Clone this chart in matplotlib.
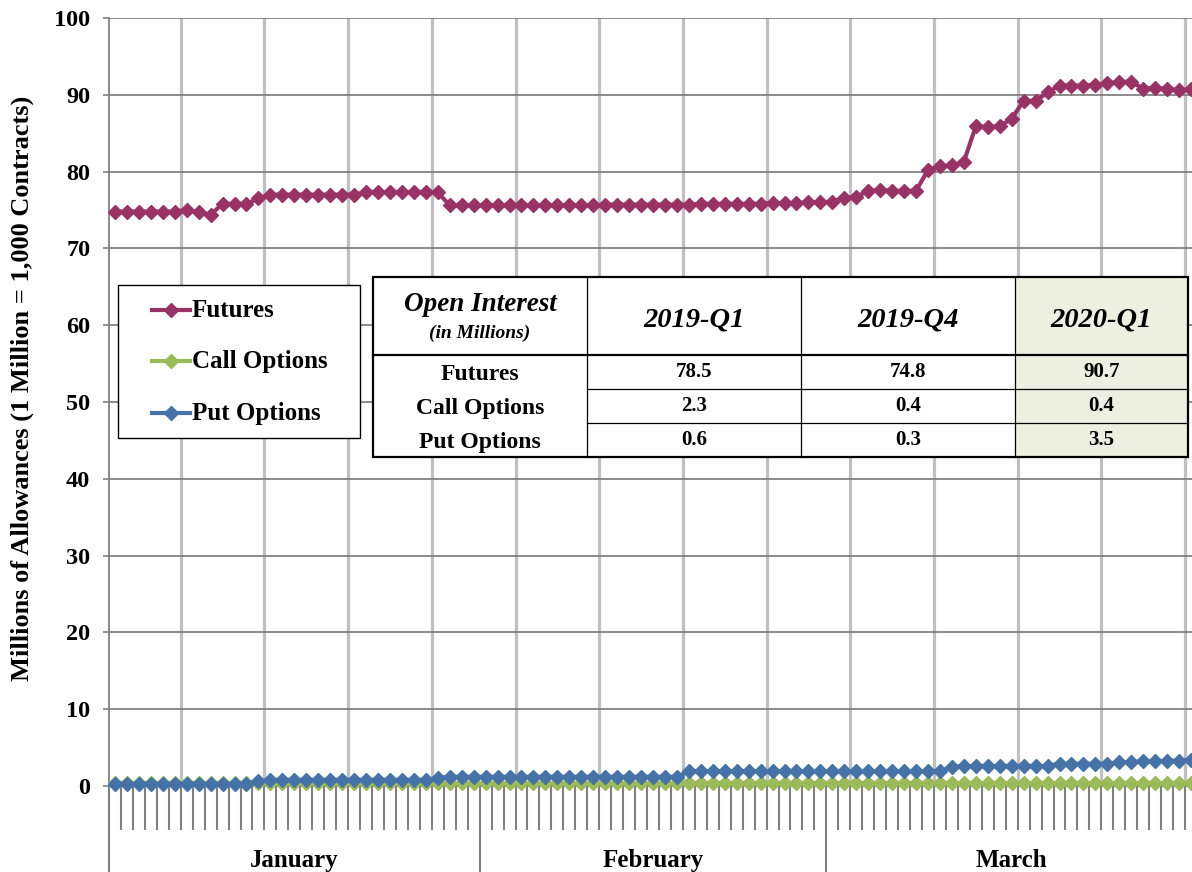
import numpy as np
import pandas as pd
import matplotlib
matplotlib.use('Agg')
import matplotlib.pyplot as plt
import matplotlib.transforms as mtransforms
from matplotlib.patches import Rectangle

plt.rcParams['font.family'] = ['Liberation Serif', 'DejaVu Serif']
plt.rcParams['font.weight'] = 'bold'

# daily categories, Q1 2020
dates = pd.date_range('2020-01-01', '2020-03-31', freq='D')
months = ['January', 'February', 'March']

# open interest, millions of allowances
futures = [74.8, 74.8, 74.8, 74.8, 74.8, 74.8, 75.0, 74.7, 74.4, 75.8, 75.8, 75.8,
           76.5, 77.0, 77.0, 77.0, 77.0, 77.0, 77.0, 77.0, 77.0, 77.3, 77.3, 77.3,
           77.3, 77.3, 77.3, 77.3, 75.6, 75.6, 75.6,
           # February
           75.6, 75.6, 75.6, 75.6, 75.6, 75.6, 75.6, 75.6, 75.6, 75.6, 75.7, 75.7,
           75.7, 75.7, 75.7, 75.7, 75.7, 75.7, 75.8, 75.8, 75.8, 75.8, 75.8, 75.8,
           75.9, 75.9, 75.9, 76.0, 76.0,
           # March
           76.1, 76.6, 76.7, 77.5, 77.6, 77.5, 77.5, 77.5, 80.2, 80.7, 80.8, 81.3,
           85.9, 85.8, 85.9, 86.9, 89.2, 89.2, 90.3, 91.2, 91.2, 91.2, 91.3, 91.5,
           91.7, 91.7, 90.8, 90.9, 90.8, 90.6, 90.7]
calls = [0.4, 0.4, 0.4, 0.4, 0.4, 0.4, 0.4, 0.4, 0.4, 0.4, 0.4, 0.4,
         0.4, 0.4, 0.4, 0.4, 0.4, 0.4, 0.4, 0.4, 0.4, 0.4, 0.4, 0.4,
         0.4, 0.4, 0.4, 0.4, 0.4, 0.4, 0.4,
         0.4, 0.4, 0.4, 0.4, 0.4, 0.4, 0.4, 0.4, 0.4, 0.4, 0.4, 0.4,
         0.4, 0.4, 0.4, 0.4, 0.4, 0.4, 0.4, 0.4, 0.4, 0.4, 0.4, 0.4,
         0.4, 0.4, 0.4, 0.4, 0.4,
         0.4, 0.4, 0.4, 0.4, 0.4, 0.4, 0.4, 0.4, 0.4, 0.4, 0.4, 0.4,
         0.4, 0.4, 0.4, 0.4, 0.4, 0.4, 0.4, 0.4, 0.4, 0.4, 0.4, 0.4,
         0.4, 0.4, 0.4, 0.4, 0.4, 0.4, 0.4]
puts = [0.3, 0.3, 0.3, 0.3, 0.3, 0.3, 0.3, 0.3, 0.3, 0.3, 0.3, 0.3,
        0.6, 0.8, 0.8, 0.8, 0.8, 0.8, 0.8, 0.8, 0.8, 0.8, 0.8, 0.8,
        0.8, 0.8, 0.8, 1.1, 1.2, 1.2, 1.2,
        1.2, 1.2, 1.2, 1.2, 1.2, 1.2, 1.2, 1.2, 1.2, 1.2, 1.2, 1.2,
        1.2, 1.2, 1.2, 1.2, 1.2, 1.9, 1.9, 1.9, 1.9, 1.9, 1.9, 1.9,
        1.9, 1.9, 1.9, 1.9, 1.9,
        1.9, 1.9, 1.9, 1.9, 1.9, 1.9, 1.9, 1.9, 1.9, 1.9, 2.5, 2.6,
        2.6, 2.6, 2.6, 2.6, 2.6, 2.6, 2.6, 2.9, 2.9, 2.9, 2.9, 2.9,
        3.1, 3.1, 3.2, 3.2, 3.3, 3.3, 3.4]

series_names = ['Futures', 'Call Options', 'Put Options']
series_colors = ['#993366', '#9BBB59', '#4572A7']

table_cols = ['2019-Q1', '2019-Q4', '2020-Q1']
table_rows = ['Futures', 'Call Options', 'Put Options']
table_vals = [[78.5, 74.8, 90.7],
              [2.3, 0.4, 0.4],
              [0.6, 0.3, 3.5]]

W, H = 1192, 872
fig = plt.figure(figsize=(W / 100, H / 100), dpi=100)
ax = fig.add_axes([109 / W, 1 - 786 / H, (1197 - 109) / W, (786 - 18) / H])

x = np.arange(len(dates))
ax.set_xlim(-0.5, len(dates) - 0.5)
ax.set_ylim(0, 100)

# gridlines
ax.set_yticks(np.arange(0, 101, 10))
ax.yaxis.grid(True, color='#787878', lw=1.2, zorder=1)
for k in range(6, len(dates), 7):
    ax.axvline(k - 0.5, color='#C0C0C0', lw=2.3, zorder=0.5)

# category ticks and month separators
month_edges = np.concatenate([[-0.5], np.flatnonzero(np.diff(dates.month)) + 0.5, [len(dates) - 0.5]])
ax.set_xticks(month_edges)
ax.set_xticks(np.arange(-0.5, len(dates)), minor=True)
ax.tick_params(axis='x', which='minor', length=44 * 0.72, width=1.5, color='#808080', direction='out')
ax.tick_params(axis='x', which='major', length=110 * 0.72, width=1.5, color='#808080', direction='out')
ax.tick_params(axis='x', labelbottom=False)
ax.tick_params(axis='y', length=4.5, width=1.2, color='#808080', labelsize=17.5, pad=9)

for s in ['top', 'right']:
    ax.spines[s].set_visible(False)
for s in ['left', 'bottom']:
    ax.spines[s].set_color('#808080')
    ax.spines[s].set_linewidth(1.3)

blend = mtransforms.blended_transform_factory(ax.transData, ax.transAxes)
for m, name in enumerate(months):
    c = (month_edges[m] + month_edges[m + 1]) / 2
    ax.text(c, -74 / 768, name, transform=blend, ha='center', va='center',
            fontsize=18, clip_on=False)

# series (calls under puts)
data = [futures, calls, puts]
for idx in [0, 1, 2]:
    ax.plot(x, data[idx], color=series_colors[idx], lw=3, marker='D', ms=7.5,
            mec=series_colors[idx], mfc=series_colors[idx], zorder=3 + idx, clip_on=False)

fig.text(22 / W, 1 - 388 / H, 'Millions of Allowances (1 Million = 1,000 Contracts)',
         rotation=90, ha='center', va='center', fontsize=19)

# overlay in pixel coordinates for legend and table
ov = fig.add_axes([0, 0, 1, 1], zorder=10)
ov.set_xlim(0, W)
ov.set_ylim(H, 0)
ov.axis('off')
ov.patch.set_alpha(0)

# legend
ov.add_patch(Rectangle((118, 285), 242, 153, fc='white', ec='black', lw=1.0))
for i, name in enumerate(series_names):
    y = 310 + i * 51.5
    ov.plot([152, 190], [y, y], color=series_colors[i], lw=3)
    ov.plot([171], [y], marker='D', ms=7.5, color=series_colors[i])
    ov.text(192, y, name, ha='left', va='center', fontsize=18)

# table
xe = [373, 587, 801, 1015, 1188]
ye = [277, 355, 389, 423, 457]
ov.add_patch(Rectangle((xe[0], ye[0]), xe[-1] - xe[0], ye[-1] - ye[0], fc='white', ec='none'))
ov.add_patch(Rectangle((xe[3], ye[0]), xe[4] - xe[3], ye[-1] - ye[0], fc='#EDF0E0', ec='none'))
for xv in xe[1:4]:
    ov.plot([xv, xv], [ye[0], ye[-1]], color='black', lw=0.9)
for yv in ye[2:4]:
    ov.plot([xe[1], xe[-1]], [yv, yv], color='black', lw=0.9)
ov.plot([xe[0], xe[-1]], [ye[1], ye[1]], color='black', lw=1.6)
ov.add_patch(Rectangle((xe[0], ye[0]), xe[-1] - xe[0], ye[-1] - ye[0], fc='none', ec='black', lw=1.6))

ov.text((xe[0] + xe[1]) / 2, 304, 'Open Interest', ha='center', va='center',
        fontsize=19.5, style='italic')
ov.text((xe[0] + xe[1]) / 2, 333, '(in Millions)', ha='center', va='center',
        fontsize=14, style='italic')
for j, col in enumerate(table_cols):
    ov.text((xe[j + 1] + xe[j + 2]) / 2, 320, col, ha='center', va='center',
            fontsize=20.5, style='italic')
for i, row in enumerate(table_rows):
    yc = (ye[i + 1] + ye[i + 2]) / 2
    ov.text((xe[0] + xe[1]) / 2, yc + 2, row, ha='center', va='center', fontsize=17)
    for j in range(3):
        ov.text((xe[j + 1] + xe[j + 2]) / 2, yc, f'{table_vals[i][j]:.1f}',
                ha='center', va='center', fontsize=15)

fig.savefig('out.png', dpi=100)
